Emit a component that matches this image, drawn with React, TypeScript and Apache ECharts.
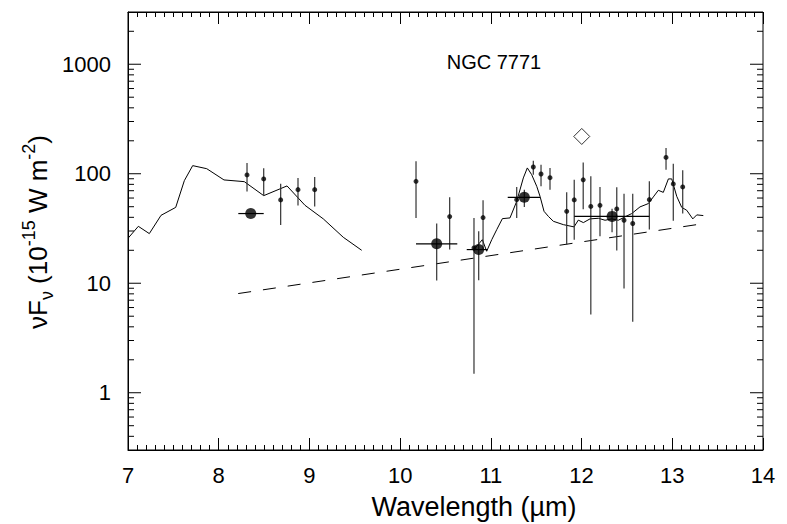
import React, { useEffect, useRef } from "react";
import * as echarts from "echarts";

// Spectrum (solid line), two segments
const specLeftX = [7.003, 7.114, 7.235, 7.364, 7.526, 7.621, 7.713, 7.868, 8.058, 8.282, 8.496, 8.753, 8.951, 9.153, 9.373, 9.576];
const specLeftY = [25.9, 33.1, 28.4, 41.7, 49.3, 86.5, 118.6, 111.2, 87.8, 84.7, 63.1, 77.4, 51.5, 38.7, 26.3, 20.0];
const specRightX = [10.814, 10.906, 10.954, 11.01, 11.065, 11.127, 11.211, 11.285, 11.358, 11.402, 11.45, 11.506, 11.542, 11.586, 11.634, 11.689, 11.799, 11.917, 11.964, 12.02, 12.093, 12.185, 12.259, 12.332, 12.405, 12.479, 12.553, 12.644, 12.736, 12.791, 12.846, 12.901, 12.957, 12.994, 13.049, 13.104, 13.159, 13.226, 13.27, 13.342];
const specRightY = [20.3, 25.0, 19.6, 25.0, 30.9, 38.9, 39.5, 56.0, 91.6, 113, 98.1, 76.7, 62.2, 45.4, 40.8, 36.8, 34.3, 32.7, 37.7, 35.8, 38.7, 39.2, 37.6, 38.7, 37.6, 40.4, 43.3, 49.8, 53.4, 61.4, 70.6, 67.6, 89.7, 89.7, 62.2, 49.3, 46.4, 38.7, 42.1, 41.5];

// Dashed continuum line
const dashX = [8.215, 13.35];
const dashY = [8.05, 35.1];

// Small points with vertical error bars
const smallX = [8.312, 8.496, 8.683, 8.874, 9.058, 10.175, 10.546, 10.814, 10.914, 11.285, 11.468, 11.553, 11.652, 11.836, 11.919, 12.018, 12.102, 12.203, 12.388, 12.468, 12.564, 12.747, 12.931, 13.011, 13.115];
const smallY = [97.5, 89.7, 57.7, 71.6, 71.6, 85.3, 40.6, 21.0, 39.8, 58.0, 115.3, 99.5, 92.1, 45.4, 57.7, 88.0, 50.3, 51.5, 47.7, 37.6, 35.1, 58.0, 141, 80.7, 75.8];
const smallLo = [68.7, 64.1, 34.1, 51.2, 50.1, 39.5, 20.3, 1.49, 20.3, 39.5, 98.1, 76.7, 71.6, 22.5, 25.0, 47.5, 5.18, 26.8, 19.9, 8.95, 4.44, 30.9, 109, 37.3, 43.3];
const smallHi = [125.5, 112, 81.2, 91.6, 93.5, 129.8, 60.9, 39.5, 57.2, 75.8, 131.7, 121, 113, 67.6, 88.3, 127, 94.7, 75.8, 75.2, 65.8, 65.8, 85.3, 172, 123.7, 107.4];

// Big points with horizontal (bandwidth) and vertical error bars
const bigX = [8.353, 10.403, 10.866, 11.369, 12.336];
const bigY = [43.3, 22.9, 20.3, 60.9, 40.8];
const bigXLo = [8.216, 10.175, 10.734, 11.186, 11.92];
const bigXHi = [8.496, 10.63, 10.961, 11.542, 12.747];
const bigLo = [43.3, 10.6, 10.65, 49.8, 29.2];
const bigHi = [43.3, 35.1, 29.8, 71.6, 48];

// Open diamond
const diamondX = [12.002];
const diamondY = [219];

// Y axis ticks
const yMajorTicks = [1, 10, 100, 1000];
const yMinorTicks = [0.4, 0.5, 0.6, 0.7, 0.8, 0.9, 2, 3, 4, 5, 6, 7, 8, 9, 20, 30, 40, 50, 60, 70, 80, 90, 200, 300, 400, 500, 600, 700, 800, 900, 2000];

const FONT = "'Liberation Sans', Arial, Helvetica, sans-serif";

export default function App() {
  const ref = useRef<HTMLDivElement>(null);
  useEffect(() => {
    if (!ref.current) return;
    const chart = echarts.init(ref.current, undefined, { renderer: "svg" });

    const zip = (a: number[], b: number[]) => a.map((v, i) => [v, b[i]]);
    const tickData = [
      ...yMajorTicks.map((v) => [7, v, 1]),
      ...yMinorTicks.map((v) => [7, v, 0]),
    ];

    const xAxisBase = {
      type: "value",
      min: 7,
      max: 14,
      interval: 1,
      axisLine: { show: true, lineStyle: { color: "#000", width: 1 } },
      axisTick: { show: true, inside: true, length: 12, lineStyle: { color: "#000", width: 1 } },
      minorTick: { show: true, splitNumber: 10, length: 5, lineStyle: { color: "#000", width: 1 } },
      splitLine: { show: false },
      minorSplitLine: { show: false },
    };

    const option: any = {
      animation: false,
      backgroundColor: "#fff",
      grid: {
        left: 128, top: 12, width: 635, height: 438,
        outerBoundsMode: "none", containLabel: false,
        show: true, borderColor: "#000", borderWidth: 1, backgroundColor: "transparent",
      },
      xAxis: [
        {
          ...xAxisBase,
          position: "bottom",
          axisLabel: { fontSize: 22, color: "#000", margin: 14, fontFamily: FONT },
        },
        {
          ...xAxisBase,
          position: "top",
          axisLabel: { show: false },
        },
      ],
      yAxis: {
        type: "log",
        logBase: 10,
        min: 0.3,
        max: 3000,
        axisLine: { show: true, lineStyle: { color: "#000", width: 1 } },
        axisTick: { show: false },
        splitLine: { show: false },
        axisLabel: {
          fontSize: 22,
          color: "#000",
          margin: 17,
          fontFamily: FONT,
          showMinLabel: false,
          showMaxLabel: false,
          formatter: (v: number) => String(Math.round(v * 1000) / 1000),
        },
      },
      graphic: [
        {
          type: "text",
          x: 494,
          y: 62,
          style: { text: "NGC 7771", fontSize: 20, fontFamily: FONT, fill: "#000", align: "center", verticalAlign: "middle" },
        },
        {
          type: "text",
          x: 474,
          y: 507,
          style: { text: "Wavelength (\u00b5m)", fontSize: 27, fontFamily: FONT, fill: "#000", align: "center", verticalAlign: "middle" },
        },
        {
          type: "text",
          x: 38,
          y: 232,
          rotation: Math.PI / 2,
          style: {
            text: "{m|\u03bdF}{sub|\u03bd}{m| (10}{sup|-15}{m| W m}{sup|-2}{m|)}",
            fill: "#000",
            align: "center",
            verticalAlign: "middle",
            rich: {
              m: { fontSize: 26, fontFamily: FONT, lineHeight: 36, fill: "#000" },
              sub: { fontSize: 18, fontFamily: FONT, verticalAlign: "bottom", fill: "#000" },
              sup: { fontSize: 18, fontFamily: FONT, verticalAlign: "top", fill: "#000" },
            },
          },
        },
      ],
      series: [
        {
          type: "custom",
          name: "yticks",
          coordinateSystem: "cartesian2d",
          clip: false,
          silent: true,
          data: tickData,
          encode: { x: 0, y: 1 },
          renderItem: (params: any, api: any) => {
            const v = api.value(1);
            const major = api.value(2) === 1;
            const len = major ? 13 : 6;
            const pl = api.coord([7, v]);
            const pr = api.coord([14, v]);
            return {
              type: "group",
              children: [
                { type: "line", shape: { x1: pl[0], y1: pl[1], x2: pl[0] + len, y2: pl[1] }, style: { stroke: "#000", lineWidth: 1 } },
                { type: "line", shape: { x1: pr[0], y1: pr[1], x2: pr[0] - len, y2: pr[1] }, style: { stroke: "#000", lineWidth: 1 } },
              ],
            };
          },
        },
        {
          type: "line",
          data: zip(specLeftX, specLeftY),
          showSymbol: false,
          symbol: "none",
          lineStyle: { color: "#000", width: 1 },
          z: 2,
        },
        {
          type: "line",
          data: zip(specRightX, specRightY),
          showSymbol: false,
          symbol: "none",
          lineStyle: { color: "#000", width: 1 },
          z: 2,
        },
        {
          type: "line",
          data: zip(dashX, dashY),
          showSymbol: false,
          symbol: "none",
          lineStyle: { color: "#000", width: 1, type: [13, 12] },
          z: 2,
        },
        {
          type: "custom",
          name: "vbars",
          coordinateSystem: "cartesian2d",
          data: [...smallX.map((x, i) => [x, smallLo[i], smallHi[i]]), ...bigX.map((x, i) => [x, bigLo[i], bigHi[i]])],
          encode: { x: 0, y: [1, 2] },
          z: 3,
          renderItem: (params: any, api: any) => {
            const a = api.coord([api.value(0), api.value(1)]);
            const b = api.coord([api.value(0), api.value(2)]);
            return { type: "line", shape: { x1: a[0], y1: a[1], x2: b[0], y2: b[1] }, style: { stroke: "#333", lineWidth: 1.2 } };
          },
        },
        {
          type: "custom",
          name: "hbars",
          coordinateSystem: "cartesian2d",
          data: bigX.map((x, i) => [bigXLo[i], bigXHi[i], bigY[i]]),
          encode: { x: [0, 1], y: 2 },
          z: 3,
          renderItem: (params: any, api: any) => {
            const a = api.coord([api.value(0), api.value(2)]);
            const b = api.coord([api.value(1), api.value(2)]);
            return { type: "line", shape: { x1: a[0], y1: a[1], x2: b[0], y2: b[1] }, style: { stroke: "#000", lineWidth: 1.2 } };
          },
        },
        {
          type: "scatter",
          data: zip(smallX, smallY),
          symbol: "circle",
          symbolSize: 5,
          itemStyle: { color: "#000" },
          z: 4,
        },
        {
          type: "scatter",
          data: zip(bigX, bigY),
          symbol: "circle",
          symbolSize: 11,
          itemStyle: { color: "#000" },
          z: 4,
        },
        {
          type: "scatter",
          data: zip(diamondX, diamondY),
          symbol: "diamond",
          symbolSize: [16, 16],
          itemStyle: { color: "#fff", borderColor: "#000", borderWidth: 1 },
          z: 4,
        },
      ],
    };

    chart.setOption(option);
    return () => chart.dispose();
  }, []);

  return <div ref={ref} style={{ width: 787, height: 524, position: "absolute", left: 0, top: 0, background: "#fff" }} />;
}
